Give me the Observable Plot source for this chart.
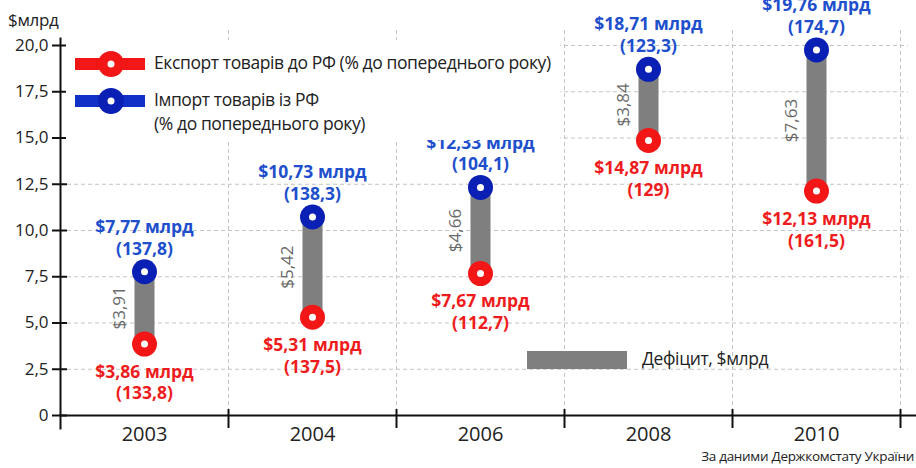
<!DOCTYPE html>
<html>
<head>
<meta charset="utf-8">
<script src="https://cdn.jsdelivr.net/npm/d3@7"></script>
<script src="https://cdn.jsdelivr.net/npm/@observablehq/plot@0.6"></script>
<style>
  body { margin: 0; background: #fff; font-family: "Open Sans", sans-serif; }
  #wrap { position: relative; width: 916px; height: 468px; overflow: hidden; }
  #chart { position: absolute; left: 0; top: 0; }
  .ov { position: absolute; }
</style>
</head>
<body>
<div id="wrap">
  <div id="chart"></div>
  <div class="ov" style="left:8px;top:8px;font-size:17px;color:#222;letter-spacing:-0.3px;">$млрд</div>
  <svg class="ov" style="left:0;top:0" width="916" height="468">
    <rect x="66" y="40" width="494" height="100" fill="#fff"></rect>
    <line x1="75" x2="145" y1="64" y2="64" stroke="#f21616" stroke-width="12"></line>
    <circle cx="111" cy="64" r="13" fill="#f21616"></circle>
    <circle cx="111" cy="64" r="3.5" fill="#fff"></circle>
    <line x1="75" x2="145" y1="101" y2="101" stroke="#1030c8" stroke-width="12"></line>
    <circle cx="111" cy="101" r="13" fill="#0a1fb4"></circle>
    <circle cx="111" cy="101" r="3.5" fill="#fff"></circle>
    <text x="154" y="64" dominant-baseline="middle" font-size="17.5" fill="#222" font-family="Open Sans" letter-spacing="-0.4">Експорт товарів до РФ (% до попереднього року)</text>
    <text x="154" y="101" dominant-baseline="middle" font-size="17.5" fill="#222" font-family="Open Sans" letter-spacing="-0.4">Імпорт товарів із РФ</text>
    <text x="154" y="125" dominant-baseline="middle" font-size="17.5" fill="#222" font-family="Open Sans" letter-spacing="-0.4">(% до попереднього року)</text>
    <rect x="527" y="351" width="100" height="18" fill="#7f7f7f"></rect>
    <text x="642" y="360" dominant-baseline="middle" font-size="17.5" fill="#222" font-family="Open Sans" letter-spacing="-0.4">Дефіцит, $млрд</text>
    <text x="914" y="457" dominant-baseline="middle" text-anchor="end" font-size="13.5" fill="#222" font-family="Open Sans" letter-spacing="-0.3">За даними Держкомстату України</text>
  </svg>
</div>
<script>
const years = ["2003", "2004", "2006", "2008", "2010"];
const exportsBn = [3.86, 5.31, 7.67, 14.87, 12.13];
const importsBn = [7.77, 10.73, 12.33, 18.71, 19.76];
const exportPct = [133.8, 137.5, 112.7, 129, 161.5];
const importPct = [137.8, 138.3, 104.1, 123.3, 174.7];
const deficitBn = [3.91, 5.42, 4.66, 3.84, 7.63];
const yTicks = [0, 2.5, 5, 7.5, 10, 12.5, 15, 17.5, 20];

const W = 916, H = 468, mL = 60, mR = 16, mT = 45, mB = 53;
const half = (W - mL - mR) / years.length / 2;

const rows = years.map((year, i) => ({
  year,
  exp: exportsBn[i],
  imp: importsBn[i],
  expPct: exportPct[i],
  impPct: importPct[i],
  def: deficitBn[i],
  mid: (exportsBn[i] + importsBn[i]) / 2
}));

const comma = (v) => String(v).replace(".", ",");
const fmt2 = (v) => v.toFixed(2).replace(".", ",");
const yFmt = (d) => d === 0 ? "0" : d.toFixed(1).replace(".", ",");

const RED = "#f21616", BLUE = "#0a1fb4", RED_T = "#ee1c1c", BLUE_T = "#1e4fcc";

const chart = Plot.plot({
  width: W, height: H,
  marginLeft: mL, marginRight: mR, marginTop: mT, marginBottom: mB,
  style: { fontFamily: "Open Sans, sans-serif", background: "transparent" },
  x: { type: "band", domain: years, padding: 0, axis: null },
  y: { domain: [0, 20], axis: null },
  marks: [
    Plot.ruleY(yTicks.filter(d => d > 0), { stroke: "#c4c4c4", strokeDasharray: "4,3", insetRight: -8 }),
    Plot.ruleX(years, { x: d => d, dx: half, stroke: "#c4c4c4", strokeDasharray: "4,3", insetTop: -15 }),
    Plot.frame({ anchor: "left", stroke: "#111", strokeWidth: 2, insetTop: -7, insetBottom: -13 }),
    Plot.frame({ anchor: "bottom", stroke: "#111", strokeWidth: 2, insetRight: -16 }),
    Plot.ruleY(yTicks, { stroke: "#111", strokeWidth: 2, insetLeft: -8, insetRight: (W - mL - mR) - 7 }),
    Plot.text(yTicks, { y: d => d, text: yFmt, frameAnchor: "left", textAnchor: "end", dx: -12, fontSize: 17, fill: "#222", letterSpacing: "-0.5" }),
    Plot.ruleX(years, { x: d => d, dx: half, y1: 0, y2: 0, insetTop: 13, insetBottom: 6, stroke: "#111", strokeWidth: 2 }),
    Plot.text(years, { x: d => d, text: d => d, frameAnchor: "bottom", lineAnchor: "top", dy: 11, fontSize: 20, fill: "#222" }),
    Plot.ruleX(rows, { x: "year", y1: "exp", y2: "imp", stroke: "#7f7f7f", strokeWidth: 20 }),
    Plot.dot(rows, { x: "year", y: "exp", r: 12.5, fill: RED }),
    Plot.dot(rows, { x: "year", y: "exp", r: 3.5, fill: "#fff" }),
    Plot.dot(rows, { x: "year", y: "imp", r: 12.5, fill: BLUE }),
    Plot.dot(rows, { x: "year", y: "imp", r: 3.5, fill: "#fff" }),
    Plot.text(rows, { x: "year", y: "mid", text: d => "$" + comma(d.def), rotate: -90, dx: -25, fontSize: 17, fill: "#6a6a6a" }),
    Plot.text(rows, { x: "year", y: "imp", text: d => "$" + fmt2(d.imp) + " млрд\n(" + comma(d.impPct) + ")",
      lineAnchor: "bottom", dy: -17, lineHeight: 1.25, fontSize: 17.5, fontWeight: 700, fill: BLUE_T, letterSpacing: "-0.3" }),
    Plot.text(rows, { x: "year", y: "exp", text: d => "$" + fmt2(d.exp) + " млрд\n(" + comma(d.expPct) + ")",
      lineAnchor: "top", dy: 18, lineHeight: 1.25, fontSize: 17.5, fontWeight: 700, fill: RED_T, letterSpacing: "-0.3" })
  ]
});
document.getElementById("chart").appendChild(chart);
</script>
</body>
</html>
